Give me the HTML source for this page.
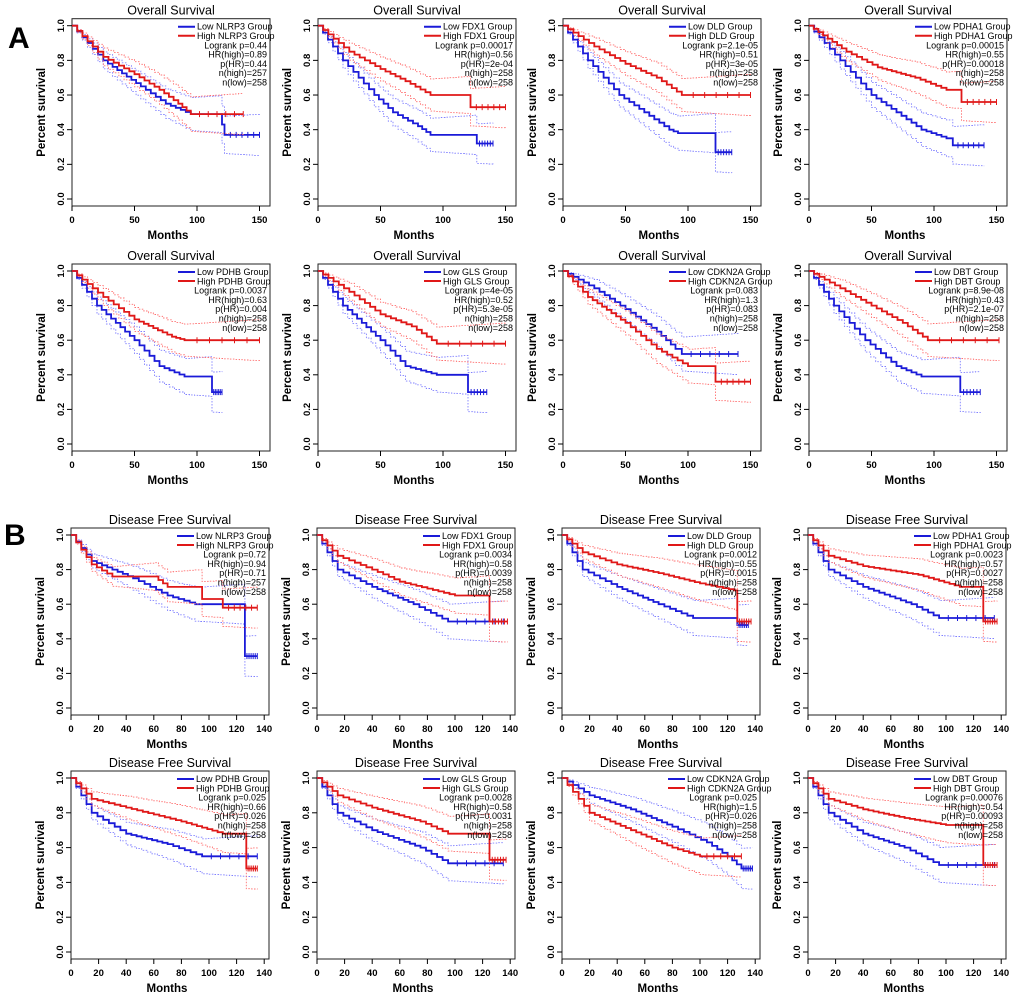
<!DOCTYPE html>
<html><head><meta charset="utf-8">
<style>
html,body{margin:0;padding:0;background:#fff;}
svg{display:block;font-family:"Liberation Sans",Arial,sans-serif;}
</style></head>
<body>
<svg id="fig" width="1020" height="1006" viewBox="0 0 1020 1006">
<text x="8" y="48" font-size="30" font-weight="bold">A</text>
<text x="4" y="545" font-size="30" font-weight="bold">B</text>
</svg>
<script>
const genes = ["NLRP3","FDX1","DLD","PDHA1","PDHB","GLS","CDKN2A","DBT","NLRP3","FDX1","DLD","PDHA1","PDHB","GLS","CDKN2A","DBT"];
const statsA = [
 ["0.44","0.89","0.44","257","258"],["0.00017","0.56","2e-04","258","258"],["2.1e-05","0.51","3e-05","258","258"],["0.00015","0.55","0.00018","258","258"],
 ["0.0037","0.63","0.004","258","258"],["4e-05","0.52","5.3e-05","258","258"],["0.083","1.3","0.083","258","258"],["8.9e-08","0.43","2.1e-07","258","258"],
 ["0.72","0.94","0.71","257","258"],["0.0034","0.58","0.0039","258","258"],["0.0012","0.55","0.0015","258","258"],["0.0023","0.57","0.0027","258","258"],
 ["0.025","0.66","0.026","258","258"],["0.0028","0.58","0.0031","258","258"],["0.025","1.5","0.026","258","258"],["0.00076","0.54","0.00093","258","258"]];
const lowCurves = [
 [[0,1],[25,0.8],[55,0.65],[75,0.55],[95,0.49],[118,0.49],[120,0.43],[122,0.37],[150,0.37]],
 [[0,1],[20,0.8],[45,0.6],[60,0.5],[80,0.42],[90,0.37],[125,0.37],[127,0.32],[140,0.32]],
 [[0,1],[20,0.8],[45,0.6],[65,0.5],[85,0.4],[92,0.38],[120,0.38],[122,0.27],[135,0.27]],
 [[0,1],[25,0.8],[50,0.6],[70,0.5],[90,0.4],[110,0.35],[115,0.31],[140,0.31]],
 [[0,1],[20,0.8],[50,0.6],[70,0.45],[90,0.39],[110,0.39],[112,0.3],[120,0.3]],
 [[0,1],[20,0.8],[50,0.6],[70,0.45],[95,0.4],[115,0.4],[120,0.3],[135,0.3]],
 [[0,1],[25,0.9],[50,0.78],[75,0.65],[90,0.55],[95,0.52],[140,0.52]],
 [[0,1],[20,0.8],[45,0.6],[70,0.45],[90,0.39],[118,0.39],[121,0.3],[137,0.3]],
 [[0,1],[15,0.85],[45,0.75],[70,0.65],[90,0.6],[125,0.6],[126,0.3],[135,0.3]],
 [[0,1],[15,0.8],[40,0.7],[70,0.6],[95,0.5],[135,0.5]],
 [[0,1],[15,0.8],[40,0.7],[70,0.6],[95,0.52],[125,0.52],[127,0.48],[135,0.48]],
 [[0,1],[15,0.8],[40,0.7],[75,0.6],[95,0.52],[135,0.52]],
 [[0,1],[15,0.8],[40,0.68],[70,0.62],[95,0.55],[135,0.55]],
 [[0,1],[15,0.8],[40,0.7],[75,0.6],[95,0.51],[135,0.51]],
 [[0,1],[20,0.9],[50,0.82],[80,0.72],[105,0.63],[120,0.55],[130,0.48],[138,0.48]],
 [[0,1],[15,0.8],[40,0.68],[70,0.6],[95,0.5],[135,0.5]]];
const highCurves = [
 [[0,1],[25,0.82],[50,0.72],[70,0.63],[85,0.55],[95,0.49],[137,0.49]],
 [[0,1],[25,0.85],[50,0.75],[70,0.68],[90,0.6],[120,0.6],[122,0.53],[150,0.53]],
 [[0,1],[25,0.88],[50,0.78],[75,0.7],[95,0.6],[150,0.6]],
 [[0,1],[30,0.85],[55,0.76],[85,0.7],[110,0.63],[120,0.63],[122,0.56],[150,0.56]],
 [[0,1],[25,0.85],[50,0.72],[80,0.62],[90,0.6],[150,0.6]],
 [[0,1],[25,0.88],[50,0.75],[75,0.68],[95,0.58],[150,0.58]],
 [[0,1],[20,0.85],[50,0.7],[75,0.55],[100,0.45],[120,0.45],[122,0.36],[150,0.36]],
 [[0,1],[25,0.9],[50,0.8],[75,0.7],[95,0.6],[152,0.6]],
 [[0,1],[15,0.83],[30,0.76],[60,0.76],[70,0.7],[90,0.7],[95,0.63],[108,0.63],[110,0.58],[135,0.58]],
 [[0,1],[15,0.88],[40,0.8],[60,0.73],[100,0.65],[124,0.65],[125,0.5],[138,0.5]],
 [[0,1],[15,0.9],[40,0.83],[70,0.78],[100,0.72],[125,0.68],[127,0.5],[137,0.5]],
 [[0,1],[15,0.88],[40,0.82],[80,0.77],[110,0.7],[125,0.7],[127,0.5],[137,0.5]],
 [[0,1],[15,0.88],[40,0.83],[80,0.75],[110,0.68],[125,0.68],[127,0.48],[135,0.48]],
 [[0,1],[15,0.9],[40,0.83],[75,0.75],[95,0.68],[124,0.68],[125,0.53],[137,0.53]],
 [[0,1],[20,0.8],[50,0.7],[80,0.6],[100,0.55],[130,0.55]],
 [[0,1],[15,0.88],[40,0.82],[70,0.77],[100,0.73],[125,0.73],[127,0.5],[137,0.5]]];
const xTicksA = [0,50,100,150];
const xTicksB = [0,20,40,60,80,100,120,140];
const yTicks = [0,0.2,0.4,0.6,0.8,1.0];

const NS="http://www.w3.org/2000/svg";
const svg=document.getElementById('fig');
function mk(tag,attrs,parent,text){const e=document.createElementNS(NS,tag);for(const k in attrs)e.setAttribute(k,attrs[k]);if(text!==undefined)e.textContent=text;(parent||svg).appendChild(e);return e;}

const colX=[72,318,563,809];
const rows=[{y1:25.7,y0:199,B:false},{y1:271,y0:444,B:false},{y1:535,y0:708,B:true},{y1:778,y0:952,B:true}];

function stepPts(knots,sx,sy,shift){
  let pts=[];
  for(let i=0;i<knots.length;i++){
    const [t,s]=knots[i];
    if(i===0){pts.push([sx(t),sy(s+shift)]);continue;}
    const [tp,sp]=knots[i-1];
    const n=Math.max(1,Math.round((t-tp)/4));
    if(sp===s){pts.push([sx(t),sy(s+shift)]);continue;}
    for(let k=1;k<=n;k++){
      const tt=tp+(t-tp)*k/n, ss=sp+(s-sp)*k/n, sprev=sp+(s-sp)*(k-1)/n;
      pts.push([sx(tt),sy(sprev+shift)]);pts.push([sx(tt),sy(ss+shift)]);
    }
  }
  return pts.map(p=>p[0].toFixed(1)+','+p[1].toFixed(1)).join(' ');
}
function ciPts(knots,sx,sy,sign,wEnd){
  const tEnd=knots[knots.length-1][0];
  const k2=knots.map(([t,s])=>[t,Math.max(0,Math.min(1,s+sign*wEnd*Math.sqrt(t/tEnd)))]);
  return stepPts(k2,sx,sy,0);
}

for(let p=0;p<16;p++){
  const r=rows[Math.floor(p/4)], c=p%4;
  const x0=colX[c]-(r.B?1:0);
  const ppu=r.B?1.38:1.25;
  const sx=t=>x0+t*ppu, sy=s=>r.y0-(r.y0-r.y1)*s;
  const g=mk('g',{});
  
  
  const right=x0+198, top=r.y1-7, bot=r.y0+7;
  const box=mk('rect',{x:x0,y:top,width:right-x0,height:bot-top,fill:'none',stroke:'#222','stroke-width':1},g);
  
  
  const title=mk('text',{x:(x0+right)/2,y:top-4,'font-size':12.5,'text-anchor':'middle'},g,r.B?'Disease Free Survival':'Overall Survival');
  
  
  yTicks.forEach(v=>{
    mk('line',{x1:x0-5,x2:x0,y1:sy(v),y2:sy(v),stroke:'#000'},g);
    const t=mk('text',{x:0,y:0,'font-size':9.5,'font-weight':'bold','text-anchor':'middle',transform:`translate(${x0-8},${sy(v)}) rotate(-90)`},g,v.toFixed(1));
    
    
  });
  const yl=mk('text',{x:0,y:0,'font-size':11.5,'font-weight':'bold','text-anchor':'middle',transform:`translate(${x0-27},${(r.y0+r.y1)/2}) rotate(-90)`},g,'Percent survival');
  
  
  (r.B?xTicksB:xTicksA).forEach(v=>{
    mk('line',{x1:sx(v),x2:sx(v),y1:bot,y2:bot+5,stroke:'#000'},g);
    const t=mk('text',{x:sx(v),y:bot+17,'font-size':9.5,'font-weight':'bold','text-anchor':'middle'},g,String(v));
    
    
  });
  const xl=mk('text',{x:(x0+right)/2-3,y:bot+33,'font-size':11.5,'font-weight':'bold','text-anchor':'middle'},g,'Months');
  
  
  [[lowCurves[p],'#1a1ad8','#8080ff','low'],[highCurves[p],'#e01818','#ff7070','high']].forEach(([k,col,lc,nm])=>{
    [1,-1].forEach(sg=>{
      const ci=mk('polyline',{points:ciPts(k,sx,sy,sg,0.12),fill:'none',stroke:lc,'stroke-width':0.9,'stroke-dasharray':'1.5,1.5'},g);
      
      
    });
    const pl=mk('polyline',{points:stepPts(k,sx,sy,0),fill:'none',stroke:col,'stroke-width':1.8},g);
    
    
    const n=k.length, tA=k[n-2][0], tB=k[n-1][0], sv=k[n-1][1];
    for(let i=1;i<=6;i++){const tt=tA+(tB-tA)*i/6;
      mk('line',{x1:sx(tt),x2:sx(tt),y1:sy(sv)-3,y2:sy(sv)+3,stroke:col,'stroke-width':1},g);}
  });
  const lx=x0+106, ly=r.y1+1;
  mk('line',{x1:lx,x2:lx+17,y1:ly,y2:ly,stroke:'#1a1ad8','stroke-width':2},g);
  mk('line',{x1:lx,x2:lx+17,y1:ly+9,y2:ly+9,stroke:'#e01818','stroke-width':2},g);
  const s=statsA[p];
  const lines=['Low '+genes[p]+' Group','High '+genes[p]+' Group','Logrank p='+s[0],'HR(high)='+s[1],'p(HR)='+s[2],'n(high)='+s[3],'n(low)='+s[4]];
  lines.forEach((L,i)=>{
    const t=i<2?mk('text',{x:lx+19,y:ly+3+i*9.3,'font-size':9},g,L):mk('text',{x:right-3,y:ly+3+i*9.3,'font-size':9,'text-anchor':'end'},g,L);
    
    
  });
}
</script>
</body></html>
